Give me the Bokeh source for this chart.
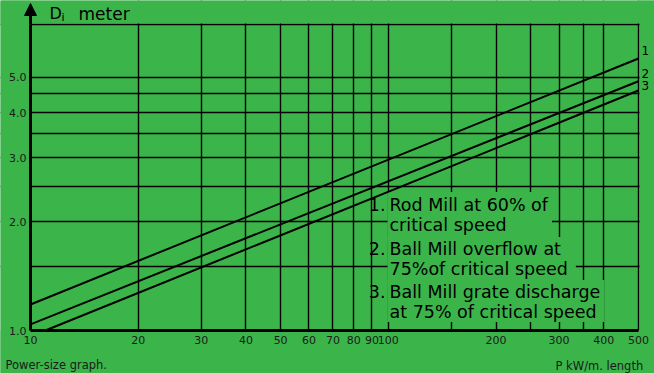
import math
from bokeh.plotting import figure
from bokeh.models import (FixedTicker, PrintfTickFormatter, Label, Arrow, NormalHead,
                          Range1d, BoxAnnotation)
from bokeh.embed import file_html
from bokeh.resources import INLINE

GREEN = "#3bb54a"
FONT = "DejaVu Sans"

# ---- data (D_i in metres vs P in kW per metre length) ----
power_kw = [10, 500]
rod_mill_60 = [1.18, 5.64]
ball_overflow_75 = [1.04, 4.88]
ball_grate_p = [11, 500]
ball_grate_75 = [1.0, 4.60]

x_tick_values = [10, 20, 30, 40, 50, 60, 70, 80, 90, 100, 200, 300, 400, 500]
x_grid_values = [20, 30, 40, 50, 60, 70, 80, 90, 100, 150, 200, 250, 300, 350, 400, 500]
y_tick_values = [1, 2, 3, 4, 5]
y_grid_values = [1.5, 2, 2.5, 3, 3.5, 4, 4.5, 5, 7]

line_numbers = ["1", "2", "3"]
legend_numbers = ["1.", "2.", "3."]
legend_texts = [
    "Rod Mill at 60% of\ncritical speed",
    "Ball Mill overflow at\n75%of critical speed",
    "Ball Mill grate discharge\nat 75% of critical speed",
]

X0, X1 = 10, 500          # plotted P range
Y0, Y1 = 1, 7             # plotted D range
PX0, PX1 = 30, 638        # pixel columns of P=10 and P=500
PY0, PY1 = 330, 24        # pixel rows of D=1 and D=7
W, H = 654, 373

# pixel -> data helpers (layout only)
def xd(px):
    return X0 * 10 ** ((px - PX0) / (PX1 - PX0) * math.log10(X1 / X0))

def yd(py):
    return Y0 * 10 ** ((PY0 - py) / (PY0 - PY1) * math.log10(Y1 / Y0))

p = figure(
    frame_width=W, frame_height=H,
    x_axis_type="log", y_axis_type="log",
    x_range=Range1d(xd(0), xd(W)), y_range=Range1d(yd(H), yd(0)),
    min_border=0, min_border_left=0, min_border_right=0,
    min_border_top=0, min_border_bottom=0,
    output_backend="svg", toolbar_location=None,
    background_fill_color=GREEN, border_fill_color=GREEN,
)
p.outline_line_color = None

# grids
p.xgrid.ticker = FixedTicker(ticks=x_grid_values)
p.ygrid.ticker = FixedTicker(ticks=y_grid_values)
for g in (p.xgrid, p.ygrid):
    g.grid_line_color = "black"
    g.grid_line_width = 1.4
    g.minor_grid_line_color = None

# green masks: keep the grid inside the 10..500 x 1..7 box
for kw in (dict(right=X0), dict(top=Y0), dict(bottom=yd(PY1 - 1)), dict(left=xd(PX1 + 1))):
    p.add_layout(BoxAnnotation(fill_color=GREEN, fill_alpha=1.0, line_color=None,
                               level="underlay", **kw))

# axes drawn at the data origin
p.xaxis.fixed_location = Y0
p.yaxis.fixed_location = X0
p.xaxis.bounds = (X0, X1)
p.yaxis.bounds = (Y0, Y1)
p.xaxis.ticker = FixedTicker(ticks=x_tick_values)
p.yaxis.ticker = FixedTicker(ticks=y_tick_values)
p.xaxis.formatter = PrintfTickFormatter(format="%d")
p.yaxis.formatter = PrintfTickFormatter(format="%.1f")
for ax in (p.xaxis, p.yaxis):
    ax.axis_line_color = "black"
    ax.axis_line_width = 3
    ax.major_tick_out = 0
    ax.major_tick_in = 0
    ax.minor_tick_out = 0
    ax.minor_tick_in = 0
    ax.major_label_text_font = FONT
    ax.major_label_text_font_size = "11px"
    ax.major_label_text_color = "#1a1a1a"
p.xaxis.major_label_standoff = 5
p.yaxis.major_label_standoff = 4

# axis arrow
p.add_layout(Arrow(end=NormalHead(size=12, fill_color="black", line_color="black"),
                   x_start=X0, y_start=Y1, x_end=X0, y_end=yd(3),
                   line_color="black", line_width=3))

# free texts
def label(px, py, text, size, align="left", baseline="alphabetic", color="black"):
    p.add_layout(Label(x=xd(px), y=yd(py), text=text, text_font=FONT, text_font_size=size,
                       text_color=color, text_align=align, text_baseline=baseline))

label(49, 13, "D", "16px")
label(61, 17, "i", "11px")
label(78, 13, "meter", "17px")
label(5, 364, "Power-size graph.", "11.5px", baseline="middle", color="#1a1a1a")
label(650, 365, "P  kW/m.  length", "11.5px", align="right", baseline="middle", color="#1a1a1a")
for num, py in zip(line_numbers, [50, 73, 85]):
    label(641, py, num, "12px", baseline="middle")

# legend blocks (green background hides the grid behind the text)
cap_tops = [198, 242, 285]
pads = [dict(left=2, right=4, top=3, bottom=7),
        dict(left=2, right=8, top=2, bottom=9),
        dict(left=2, right=4, top=2, bottom=0)]
for txt, num, ct, pad in zip(legend_texts, legend_numbers, cap_tops, pads):
    p.add_layout(Label(x=xd(387), y=yd(ct - 3.5 - pad["top"]), text=txt, text_font=FONT,
                       text_font_size="17.5px", text_color="black", text_align="left",
                       text_baseline="top", text_line_height=1.0,
                       background_fill_color=GREEN, padding=pad, level="underlay"))
    p.add_layout(Label(x=xd(385), y=yd(ct - 0.5), text=num, text_font=FONT,
                       text_font_size="17.5px", text_color="black", text_align="right",
                       text_baseline="top", level="underlay"))

# data lines
p.line(power_kw, rod_mill_60, line_color="black", line_width=2)
p.line(power_kw, ball_overflow_75, line_color="black", line_width=2)
p.line(ball_grate_p, ball_grate_75, line_color="black", line_width=2)

open("out.html", "w").write(file_html(p, INLINE))
